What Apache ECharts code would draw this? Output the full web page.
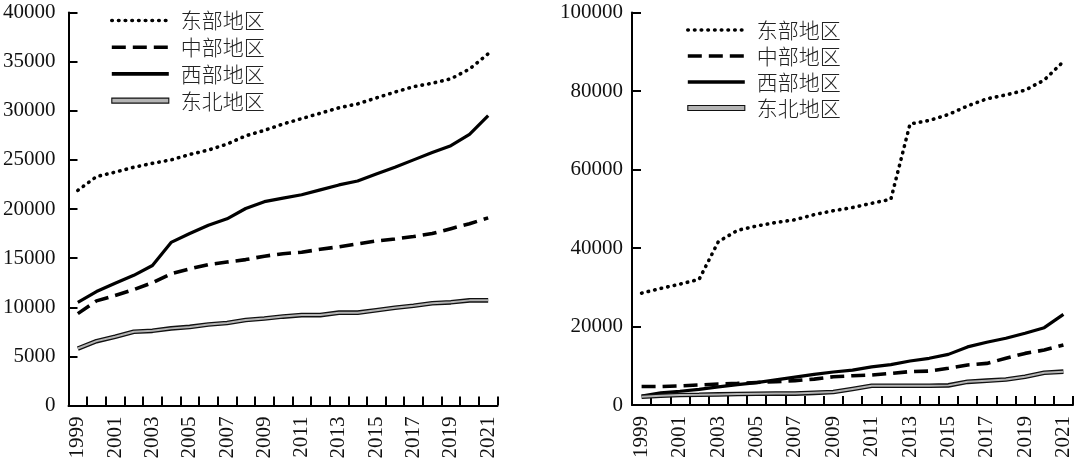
<!DOCTYPE html>
<html><head><meta charset="utf-8">
<script src="https://cdn.jsdelivr.net/npm/echarts@6/dist/echarts.min.js"></script>
<style>html,body{margin:0;padding:0;background:#fff}#c{width:1080px;height:470px}</style>
</head><body><div id="c"></div>
<script>
// categories
const years = ['1999','2000','2001','2002','2003','2004','2005','2006','2007','2008','2009','2010',
  '2011','2012','2013','2014','2015','2016','2017','2018','2019','2020','2021'];
const names = ['东部地区','中部地区','西部地区','东北地区'];

// left chart values
const leftEast = [21900,23300,23750,24250,24650,25000,25550,26000,26600,27450,28000,28650,
  29200,29750,30300,30700,31300,31900,32450,32800,33250,34250,35800];
const leftCentral = [9350,10650,11200,11800,12500,13400,13900,14350,14600,14850,15200,15450,
  15600,15900,16150,16450,16750,16950,17200,17500,18000,18500,19100];
const leftWest = [10500,11600,12450,13250,14250,16600,17500,18350,19000,20050,20750,21100,
  21450,21950,22450,22850,23550,24250,25000,25750,26450,27600,29500];
const leftNE = [5800,6550,7000,7500,7600,7850,8000,8250,8400,8700,8850,9050,
  9200,9200,9450,9450,9700,9950,10150,10400,10500,10700,10700];

// right chart values
const rightEast = [28500,29700,30800,32000,41600,44500,45600,46500,47200,48500,49500,50300,
  51400,52400,71600,72500,74000,76200,78000,79000,80200,82800,87500];
const rightCentral = [4700,4700,4850,5100,5350,5500,5750,5950,6200,6600,7200,7450,
  7650,8050,8500,8650,9350,10200,10600,11900,13150,14000,15300];
const rightWest = [2300,3100,3500,4000,4600,5200,5700,6400,7100,7800,8400,8900,
  9700,10300,11200,11900,12900,14800,16000,17000,18300,19700,23100];
const rightNE = [2100,2350,2550,2600,2700,2800,2850,2900,2900,3100,3300,4100,
  4900,4900,4900,4900,5000,5900,6200,6500,7200,8200,8500];

// tick settings
const leftMax = 40000, leftStep = 5000;
const rightMax = 100000, rightStep = 20000;

const serif = 'Liberation Serif';
const cjk = 'Noto Sans CJK SC';

function seriesFor(idx, east, central, west, ne) {
  const base = {type:'line', xAxisIndex:idx, yAxisIndex:idx, symbol:'none', showSymbol:false,
    smooth:false, animation:false, silent:true};
  return [
    Object.assign({}, base, {name:names[0], data:east,
      lineStyle:{color:'#000', width:3.6, type:[0.5,6.2], cap:'round'}}),
    Object.assign({}, base, {name:names[1], data:central,
      lineStyle:{color:'#000', width:3.6, type:[14,7], cap:'butt'}}),
    Object.assign({}, base, {name:names[2], data:west,
      lineStyle:{color:'#000', width:3.2, type:'solid'}}),
    Object.assign({}, base, {name:names[3], data:ne,
      lineStyle:{color:'#111', width:4.6, type:'solid'}}),
    Object.assign({}, base, {name:names[3] + '_inner', data:ne,
      lineStyle:{color:'#b4b4b4', width:2.0, type:'solid'}})
  ];
}

function xAxisFor(idx) {
  return {gridIndex:idx, type:'category', data:years, boundaryGap:true,
    axisLine:{show:true, lineStyle:{color:'#000', width:2}},
    axisTick:{show:true, inside:true, length:9, interval:0, lineStyle:{color:'#000', width:2}},
    axisLabel:{rotate:90, interval:1, fontFamily:serif, fontSize:21, color:'#111', margin:11},
    splitLine:{show:false}};
}
function yAxisFor(idx, max, step, margin) {
  return {gridIndex:idx, type:'value', min:0, max:max, interval:step,
    axisLine:{show:true, lineStyle:{color:'#000', width:2}},
    axisTick:{show:true, inside:true, length:9, lineStyle:{color:'#000', width:2}},
    axisLabel:{fontFamily:serif, fontSize:21, color:'#111', margin:margin,
      formatter:function (v) { return String(v); }},
    splitLine:{show:false}};
}

const legendData = [
  {name:names[0]}, {name:names[1]}, {name:names[2]},
  {name:names[3], icon:'rect', itemStyle:{color:'#b4b4b4', borderColor:'#111', borderWidth:1.1, opacity:1}}
];
function legendFor(left, top, gap) {
  return {orient:'vertical', left:left, top:top, padding:0, itemWidth:57, itemHeight:5,
    itemGap:gap, data:legendData, selectedMode:false,
    itemStyle:{opacity:0}, lineStyle:{width:3.6},
    textStyle:{fontFamily:cjk, fontWeight:300, fontSize:21, lineHeight:21, color:'#222', padding:[0,0,0,7]}};
}

const chart = echarts.init(document.getElementById('c'), null, {renderer:'canvas'});
chart.setOption({
  animation:false,
  backgroundColor:'#fff',
  grid:[
    {left:68, top:12.5, width:429.5, height:393},
    {left:632, top:12.5, width:441, height:392.5}
  ],
  legend:[legendFor(110, 10, 5.7), legendFor(686, 19.5, 5)],
  xAxis:[xAxisFor(0), xAxisFor(1)],
  yAxis:[yAxisFor(0, leftMax, leftStep, 13), yAxisFor(1, rightMax, rightStep, 9)],
  series:[].concat(
    seriesFor(0, leftEast, leftCentral, leftWest, leftNE),
    seriesFor(1, rightEast, rightCentral, rightWest, rightNE)
  )
});
</script></body></html>
